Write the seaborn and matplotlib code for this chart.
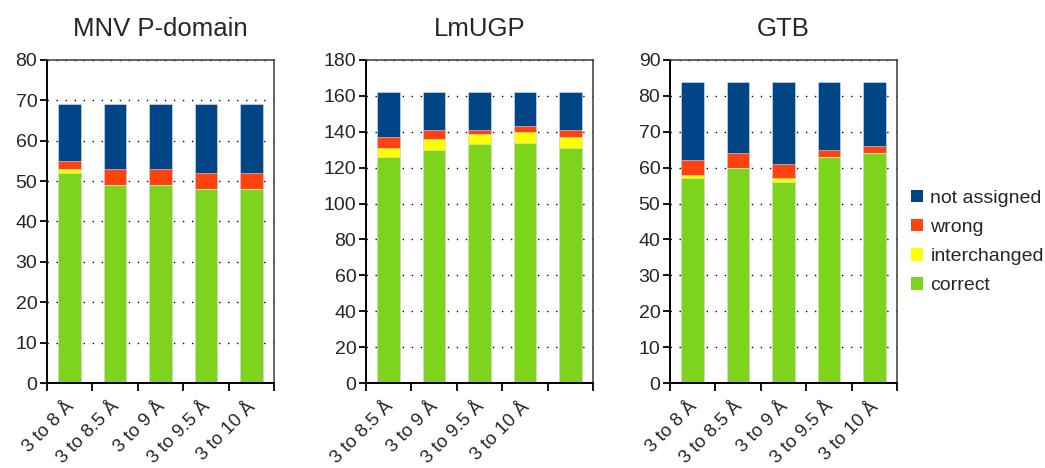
import matplotlib
matplotlib.use("Agg")
import matplotlib.pyplot as plt
from matplotlib.patches import Patch
from matplotlib.ticker import FixedLocator, MultipleLocator
import numpy as np
import pandas as pd
import seaborn as sns

# ---- data -------------------------------------------------------------
layers = ["correct", "interchanged", "wrong", "not assigned"]
layer_colors = {
    "correct": "#7ed31c",
    "interchanged": "#ffff00",
    "wrong": "#ff420e",
    "not assigned": "#004586",
}

mnv_labels = ["3 to 8 Å", "3 to 8.5 Å", "3 to 9 Å", "3 to 9.5 Å", "3 to 10 Å"]
mnv_correct = [52, 49, 49, 48, 48]
mnv_interchanged = [1, 0, 0, 0, 0]
mnv_wrong = [2, 4, 4, 4, 4]
mnv_not_assigned = [14, 16, 16, 17, 17]

lmugp_labels = ["3 to 8.5 Å", "3 to 9 Å", "3 to 9.5 Å", "3 to 10 Å", ""]
lmugp_correct = [126, 130, 133, 134, 131]
lmugp_interchanged = [5, 6, 6, 6, 6]
lmugp_wrong = [6, 5, 2, 3, 4]
lmugp_not_assigned = [25, 21, 21, 19, 21]

gtb_labels = ["3 to 8 Å", "3 to 8.5 Å", "3 to 9 Å", "3 to 9.5 Å", "3 to 10 Å"]
gtb_correct = [57, 60, 56, 63, 64]
gtb_interchanged = [1, 0, 1, 0, 0]
gtb_wrong = [4, 4, 4, 2, 2]
gtb_not_assigned = [22, 20, 23, 19, 18]

panels = [
    ("MNV P-domain", mnv_labels,
     [mnv_correct, mnv_interchanged, mnv_wrong, mnv_not_assigned], 80, 10),
    ("LmUGP", lmugp_labels,
     [lmugp_correct, lmugp_interchanged, lmugp_wrong, lmugp_not_assigned], 180, 20),
    ("GTB", gtb_labels,
     [gtb_correct, gtb_interchanged, gtb_wrong, gtb_not_assigned], 90, 10),
]

# ---- style ------------------------------------------------------------
sns.set_style("white")
plt.rcParams["font.family"] = ["Liberation Sans", "DejaVu Sans"]
plt.rcParams["font.size"] = 14

fig = plt.figure(figsize=(10.45, 4.68), dpi=100)
W, H = 1045, 468
lefts = [47, 366, 670]
ax_w, ax_top, ax_bot = 227, 60, 383

for (title, labels, values, ymax, ystep), left in zip(panels, lefts):
    ax = fig.add_axes([left / W, 1 - ax_bot / H, ax_w / W, (ax_bot - ax_top) / H])
    slots = [f"s{i}" for i in range(len(labels))]
    df = pd.DataFrame({"slot": slots})
    for name, vals in zip(layers, values):
        df[name] = vals
    # cumulative tops, drawn from the highest layer down so each covers the next
    cum = df[layers].cumsum(axis=1)
    for name in reversed(layers):
        sns.barplot(x=df["slot"], y=cum[name], order=slots, color=layer_colors[name],
                    width=0.5, errorbar=None, saturation=1, ax=ax,
                    edgecolor="#dbe4ee", linewidth=0.4)

    ax.set_xlim(-0.5, len(slots) - 0.5)
    ax.set_ylim(0, ymax)
    ax.yaxis.set_major_locator(MultipleLocator(ystep))
    ax.set_xlabel("")
    ax.set_ylabel("")
    ax.set_title(title, fontsize=18.5, pad=17)

    ax.set_axisbelow(True)
    ax.yaxis.grid(True, color="black", linestyle=(0, (1, 5.5)), linewidth=1.0)
    ax.xaxis.grid(False)

    # x: slanted labels ending just right of each bar centre,
    # tick marks at the slot boundaries
    ax.set_xticks(np.arange(len(slots)) + 0.17)
    ax.set_xticklabels(labels, rotation=45, ha="right")
    ax.xaxis.set_minor_locator(FixedLocator(np.arange(-0.5, len(slots), 1.0)))
    ax.tick_params(axis="x", which="major", length=0, pad=11, labelsize=13.5)
    ax.tick_params(axis="x", which="minor", direction="out", length=6,
                   width=1.3, color="black", bottom=True)
    ax.tick_params(axis="y", which="major", direction="out", length=5,
                   width=1.3, color="black", left=True, pad=2, labelsize=14)

    for side in ("left", "bottom"):
        ax.spines[side].set_color("black")
        ax.spines[side].set_linewidth(1.4)
    for side in ("top", "right"):
        ax.spines[side].set_visible(True)
        ax.spines[side].set_color("#3a3a3a")
        ax.spines[side].set_linewidth(1.1)

handles = [Patch(facecolor=layer_colors[n], edgecolor="none", label=n)
           for n in reversed(layers)]
fig.legend(handles=handles, loc="upper left",
           bbox_to_anchor=(911 / W, 1 - 190 / H), frameon=False,
           handlelength=0.6, handleheight=0.6, handletextpad=0.4,
           labelspacing=0.62, borderpad=0, borderaxespad=0, fontsize=14)

fig.savefig("out.png", dpi=100)
